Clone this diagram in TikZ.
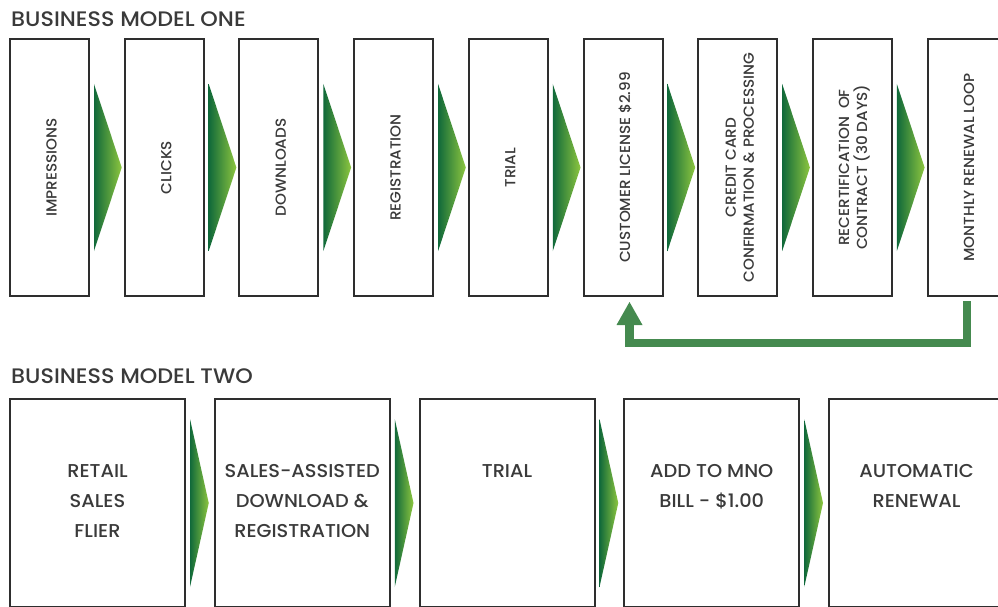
\documentclass[tikz,border=0pt]{standalone}
\usepackage{fontspec}
\setmainfont{Poppins}[UprightFont=* Medium,FakeStretch=1.04]
\newfontfamily\titlefont{Poppins}[UprightFont=* Medium,FakeStretch=1.06]
\usetikzlibrary{arrows.meta,calc}
\definecolor{ink}{HTML}{3A3A3A}
\definecolor{boxline}{HTML}{2E2E2E}
\definecolor{gdark}{HTML}{10693A}
\definecolor{glight}{HTML}{8DC63F}
\definecolor{loopgreen}{HTML}{458A4F}
\begin{document}
\begin{tikzpicture}[x=1pt,y=-1pt,
  topbox/.style={draw=boxline,line width=2pt,fill=white,minimum width=79pt,minimum height=257pt,inner sep=0pt,outer sep=0pt},
  botbox/.style={draw=boxline,line width=2pt,fill=white,minimum width=175pt,minimum height=208pt,inner sep=0pt,outer sep=0pt},
  toptext/.style={rotate=90,align=center,text=ink,font=\fontsize{14.6}{18}\selectfont,inner sep=0pt},
  bottext/.style={anchor=north,align=center,text=ink,font=\fontsize{18.6}{30}\selectfont,inner sep=0pt},
  title/.style={anchor=base west,text=ink,font=\titlefont\fontsize{21}{24}\selectfont,inner sep=0pt},
  grad/.style={left color=gdark,right color=glight},
  loop/.style={draw=loopgreen,line width=8.5pt,-{Triangle[width=26pt,length=23pt,line width=0pt]}}
]
\useasboundingbox (0,0) rectangle (998,607);
% titles
\node[title] (h1) at (11,27) {BUSINESS MODEL ONE};
\node[title] (h2) at (11,383.5) {BUSINESS MODEL TWO};
% top row
\node[topbox] (b1) at (49.5,167.5) {};
\node[topbox] (b2) at (164.2,167.5) {};
\node[topbox] (b3) at (278.9,167.5) {};
\node[topbox] (b4) at (393.6,167.5) {};
\node[topbox] (b5) at (508.3,167.5) {};
\node[topbox] (b6) at (623.0,167.5) {};
\node[topbox] (b7) at (737.7,167.5) {};
\node[topbox] (b8) at (852.4,167.5) {};
\node[topbox] (b9) at (967.1,167.5) {};
\node[toptext] (t1) at ([xshift=2pt]b1.center) {IMPRESSIONS};
\node[toptext] (t2) at ([xshift=2pt]b2.center) {CLICKS};
\node[toptext] (t3) at ([xshift=2pt]b3.center) {DOWNLOADS};
\node[toptext] (t4) at ([xshift=2pt]b4.center) {REGISTRATION};
\node[toptext] (t5) at ([xshift=2pt]b5.center) {TRIAL};
\node[toptext] (t6) at ([xshift=2pt]b6.center) {CUSTOMER LICENSE \$2.99};
\node[toptext] (t7) at ([xshift=2pt]b7.center) {CREDIT CARD\\CONFIRMATION \& PROCESSING};
\node[toptext] (t8) at ([xshift=2pt]b8.center) {RECERTIFICATION\ \ OF\\CONTRACT (30 DAYS)};
\node[toptext] (t9) at ([xshift=2pt]b9.center) {MONTHLY RENEWAL LOOP};
\foreach \a/\b in {b1/b2,b2/b3,b3/b4,b4/b5,b5/b6,b6/b7,b7/b8,b8/b9}{
  \path[grad] ([xshift=5pt,yshift=83.5pt]\a.east) -- ([xshift=-3pt]\b.west) -- ([xshift=5pt,yshift=-83.5pt]\a.east) -- cycle;
}
% loop back
\draw[loop] ([yshift=-5pt]b9.south) -- ++(0,42) -| ([xshift=6.5pt,yshift=-6pt]b6.south);
% bottom row
\node[botbox] (c1) at (97.5,503) {};
\node[botbox] (c2) at (302.25,503) {};
\node[botbox] (c3) at (507,503) {};
\node[botbox] (c4) at (711.75,503) {};
\node[botbox] (c5) at (916.5,503) {};
\node[bottext] (u1) at ($(c1.north)+(0,65)$) {RETAIL\\SALES\\FLIER};
\node[bottext] (u2) at ($(c2.north)+(0,65)$) {SALES-ASSISTED\\DOWNLOAD \&\\REGISTRATION};
\node[bottext] (u3) at ($(c3.north)+(0,65)$) {TRIAL};
\node[bottext] (u4) at ($(c4.north)+(0,65)$) {ADD TO MNO\\BILL - \$1.00};
\node[bottext] (u5) at ($(c5.north)+(0,65)$) {AUTOMATIC\\RENEWAL};
\foreach \a/\b in {c1/c2,c2/c3,c3/c4,c4/c5}{
  \path[grad] ([xshift=5pt,yshift=84pt]\a.east) -- ([xshift=-6pt]\b.west) -- ([xshift=5pt,yshift=-84pt]\a.east) -- cycle;
}
\end{tikzpicture}
\end{document}
